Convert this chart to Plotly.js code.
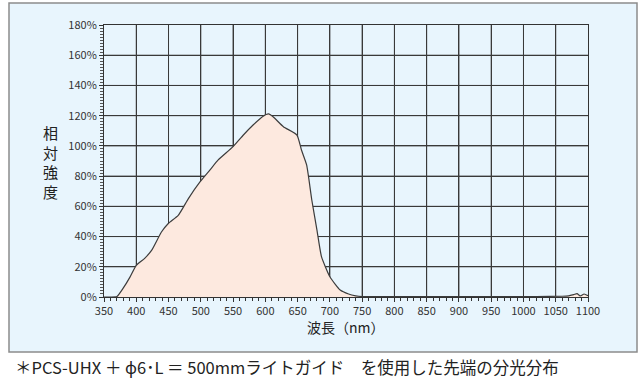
<!DOCTYPE html>
<html><head><meta charset="utf-8">
<script src="https://cdn.plot.ly/plotly-3.0.1.min.js"></script>
<style>html,body{margin:0;padding:0;background:#fff;}#chart{width:640px;height:380px;}</style>
</head><body><div id="chart"></div>
<script>
// wavelength (nm)
const wavelength = [350,360,370,380,390,400,413,424,439,450,465,481,499,514,527,550,566,581,596,605,612,628,649,656,664,672,680,687,700,716,729,740,750,770,800,850,900,950,1000,1040,1060,1070,1078,1083,1088,1094,1100];
// relative intensity (%)
const intensity = [0,0,0.3,6,13,21,25.6,31,43,48.8,54,65.3,76.3,84,90.7,99.5,107.2,113.8,119.5,121.2,119.3,112.7,107.2,97.3,87.4,64.2,44.3,26.7,13.4,4.6,2,0.8,0.3,0.2,0.3,0.2,0.3,0.2,0.3,0.4,0.5,0.8,1.6,2.2,0.7,2.0,0.8];
const xTicks = [350,400,450,500,550,600,650,700,750,800,850,900,950,1000,1050,1100];
const yTicks = [0,20,40,60,80,100,120,140,160,180];
const yTitle = "相<br>対<br>強<br>度";
const xTitle = "波長（nm）";
const caption = "＊PCS-UHX ＋ ϕ6･L ＝ 500mmライトガイド　を使用した先端の分光分布";

const font = "Noto Sans CJK JP, Noto Sans, sans-serif";
const gridColor = 'rgb(58,58,58)';
const xMin = xTicks[0], xMax = xTicks[xTicks.length - 1];
const yMin = yTicks[0], yMax = yTicks[yTicks.length - 1];
// grid lines drawn as traces from the tick arrays, beneath the filled spectrum
const gx = [], gy = [];
xTicks.slice(1, -1).forEach(v => { gx.push(v, v, null); gy.push(yMin, yMax, null); });
yTicks.slice(1, -1).forEach(v => { gx.push(xMin, xMax, null); gy.push(v, v, null); });
const gridTrace = {
  x: gx, y: gy, type: 'scatter', mode: 'lines', connectgaps: false,
  line: {color: gridColor, width: 1}, hoverinfo: 'skip'
};
const trace = {
  x: wavelength, y: intensity, type: 'scatter', mode: 'lines',
  line: {color: '#3c3c3c', width: 1.2, shape: 'spline', smoothing: 0.5},
  fill: 'tozeroy', fillcolor: '#fde9df', hoverinfo: 'skip'
};
const axisCommon = {
  showline: true, mirror: true, linecolor: '#333', linewidth: 1,
  showgrid: true, gridcolor: gridColor, gridwidth: 1, zeroline: false,
  ticks: 'outside', ticklen: 4, tickcolor: '#333', tickwidth: 1,
  tickfont: {family: font, size: 11, color: '#333'}
};
const px = v => (v - 104) / 484;
const py = v => (297 - v) / 272;
const white = (x0, x1, y0, y1) => ({type: 'rect', xref: 'paper', yref: 'paper', layer: 'above',
  x0: px(x0), x1: px(x1), y0: py(y1), y1: py(y0), fillcolor: '#ffffff', line: {width: 0}});
const layout = {
  width: 640, height: 380,
  margin: {l: 104, r: 52, t: 25, b: 83},
  paper_bgcolor: '#e8f5fd', plot_bgcolor: 'rgba(0,0,0,0)',
  showlegend: false,
  xaxis: Object.assign({}, axisCommon, {
    range: [xMin, xMax], tickmode: 'array', tickvals: xTicks, ticktext: xTicks.map(String),
    minor: {dtick: 10, tick0: 350, ticks: 'outside', ticklen: 3, tickcolor: '#333'}
  }),
  yaxis: Object.assign({}, axisCommon, {
    range: [yMin, yMax], tickmode: 'array', tickvals: yTicks, ticktext: yTicks.map(v => v + '%'),
    minor: {dtick: 2, tick0: 0, ticks: 'outside', ticklen: 3, tickcolor: '#555'}
  }),
  shapes: [
    white(0, 640, 352, 380), white(0, 9, 0, 380), white(637, 640, 0, 380), white(0, 640, 0, 3),
    {type: 'rect', xref: 'paper', yref: 'paper', layer: 'above',
     x0: px(9), x1: px(637), y0: py(352), y1: py(3),
     fillcolor: 'rgba(0,0,0,0)', line: {color: '#8c8c8c', width: 1.5}}
  ],
  annotations: [
    {text: yTitle, xref: 'paper', yref: 'paper', x: px(50), y: py(162),
     xanchor: 'center', yanchor: 'middle', showarrow: false, align: 'center',
     font: {family: font, size: 15, color: '#222'}},
    {text: xTitle, xref: 'paper', yref: 'paper', x: px(346), y: py(327),
     xanchor: 'center', yanchor: 'middle', showarrow: false,
     font: {family: font, size: 14, color: '#222'}},
    {text: caption, xref: 'paper', yref: 'paper', x: px(13), y: py(367),
     xanchor: 'left', yanchor: 'middle', showarrow: false,
     font: {family: font, size: 16.5, color: '#222'}}
  ]
};
Plotly.newPlot('chart', [gridTrace, trace], layout, {displayModeBar: false});
</script></body></html>
